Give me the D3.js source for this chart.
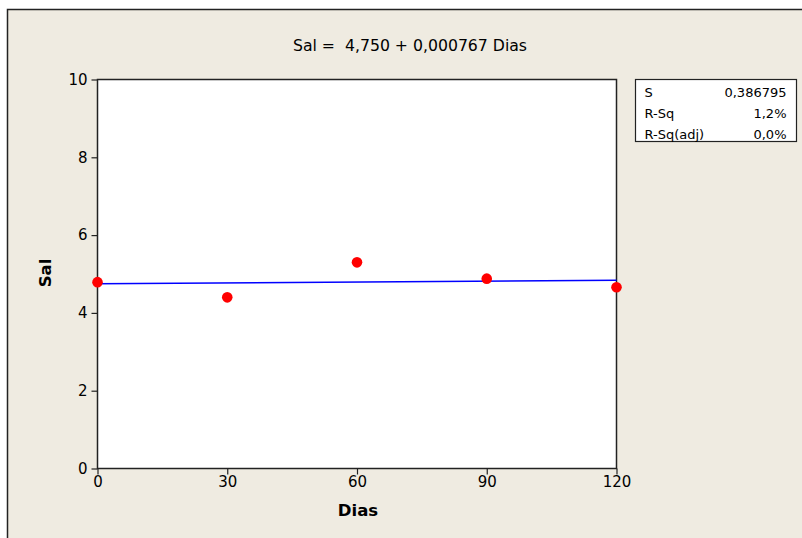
<!DOCTYPE html>
<html>
<head>
<meta charset="utf-8">
<script src="https://cdn.jsdelivr.net/npm/d3@7"></script>
<style>
  html, body { margin: 0; padding: 0; background: #ffffff; }
  svg { display: block; }
  text { font-family: "DejaVu Sans", Verdana, sans-serif; fill: #000; }
</style>
</head>
<body>
<svg id="chart" width="802" height="538"></svg>
<script>
// Observations: days of storage vs. salt content
const dias = [0, 30, 60, 90, 120];
const sal = [4.79, 4.40, 5.30, 4.88, 4.66];

// Fitted regression line: Sal = intercept + slope * Dias
const intercept = 4.750;
const slope = 0.000767;

// Axis ticks
const xTicks = [0, 30, 60, 90, 120];
const yTicks = [0, 2, 4, 6, 8, 10];

// Summary statistics table
const statNames = ["S", "R-Sq", "R-Sq(adj)"];
const statValues = ["0,386795", "1,2%", "0,0%"];

const svg = d3.select("#chart");

// Outer panel
svg.append("rect")
  .attr("x", 7.5).attr("y", 9.5)
  .attr("width", 820).attr("height", 560)
  .attr("fill", "#efebe1")
  .attr("stroke", "#222").attr("stroke-width", 1.5);

const plot = { left: 97.5, right: 616.5, top: 79.5, bottom: 468.5 };

const x = d3.scaleLinear().domain([0, 120]).range([plot.left, plot.right]);
const y = d3.scaleLinear().domain([0, 10]).range([plot.bottom, plot.top]);

// Data region
svg.append("rect")
  .attr("x", plot.left).attr("y", plot.top)
  .attr("width", plot.right - plot.left).attr("height", plot.bottom - plot.top)
  .attr("fill", "#ffffff");

// Axes
const xAxis = svg.append("g")
  .attr("transform", `translate(0,${plot.bottom})`)
  .call(d3.axisBottom(x).tickValues(xTicks).tickSize(6).tickPadding(2).tickSizeOuter(0));
const yAxis = svg.append("g")
  .attr("transform", `translate(${plot.left},0)`)
  .call(d3.axisLeft(y).tickValues(yTicks).tickSize(6).tickPadding(4).tickSizeOuter(0));

[xAxis, yAxis].forEach(g => {
  g.select(".domain").remove();
  g.selectAll("line").attr("stroke", "#222").attr("stroke-width", 1.2);
  g.selectAll("text")
    .attr("font-family", "DejaVu Sans, Verdana, sans-serif")
    .attr("font-size", 15).attr("fill", "#000");
});

// Frame around data region
svg.append("rect")
  .attr("x", plot.left).attr("y", plot.top)
  .attr("width", plot.right - plot.left).attr("height", plot.bottom - plot.top)
  .attr("fill", "none").attr("stroke", "#222").attr("stroke-width", 1.5);

// Regression line
const fit = d3.line().x(d => x(d)).y(d => y(intercept + slope * d));
svg.append("path")
  .datum([0, 120])
  .attr("d", fit)
  .attr("fill", "none").attr("stroke", "#0000ff").attr("stroke-width", 1.5);

// Points
svg.append("g").selectAll("circle")
  .data(dias.map((d, i) => ({ d, s: sal[i] })))
  .join("circle")
  .attr("cx", p => x(p.d)).attr("cy", p => y(p.s))
  .attr("r", 5.3).attr("fill", "#ff0000");

// Title
svg.append("text")
  .attr("x", 410).attr("y", 51)
  .attr("text-anchor", "middle")
  .attr("font-size", 15.7)
  .attr("xml:space", "preserve")
  .text("Sal =  4,750 + 0,000767 Dias");

// Axis titles
svg.append("text")
  .attr("x", 358).attr("y", 516)
  .attr("text-anchor", "middle")
  .attr("font-size", 16.5).attr("font-weight", "bold")
  .text("Dias");
svg.append("text")
  .attr("transform", "translate(51,273) rotate(-90)")
  .attr("text-anchor", "middle")
  .attr("font-size", 16.5).attr("font-weight", "bold")
  .text("Sal");

// Statistics table
const box = { x: 635.5, y: 79.5, w: 161, h: 62 };
svg.append("rect")
  .attr("x", box.x).attr("y", box.y).attr("width", box.w).attr("height", box.h)
  .attr("fill", "#ffffff").attr("stroke", "#222").attr("stroke-width", 1.2);
const rows = svg.append("g").selectAll("g")
  .data(statNames.map((n, i) => ({ n, v: statValues[i], i })))
  .join("g");
rows.append("text")
  .attr("x", box.x + 9).attr("y", r => box.y + 17 + r.i * 21)
  .attr("font-size", 13)
  .text(r => r.n);
rows.append("text")
  .attr("x", box.x + box.w - 10).attr("y", r => box.y + 17 + r.i * 21)
  .attr("text-anchor", "end")
  .attr("font-size", 13)
  .text(r => r.v);
</script>
</body>
</html>
